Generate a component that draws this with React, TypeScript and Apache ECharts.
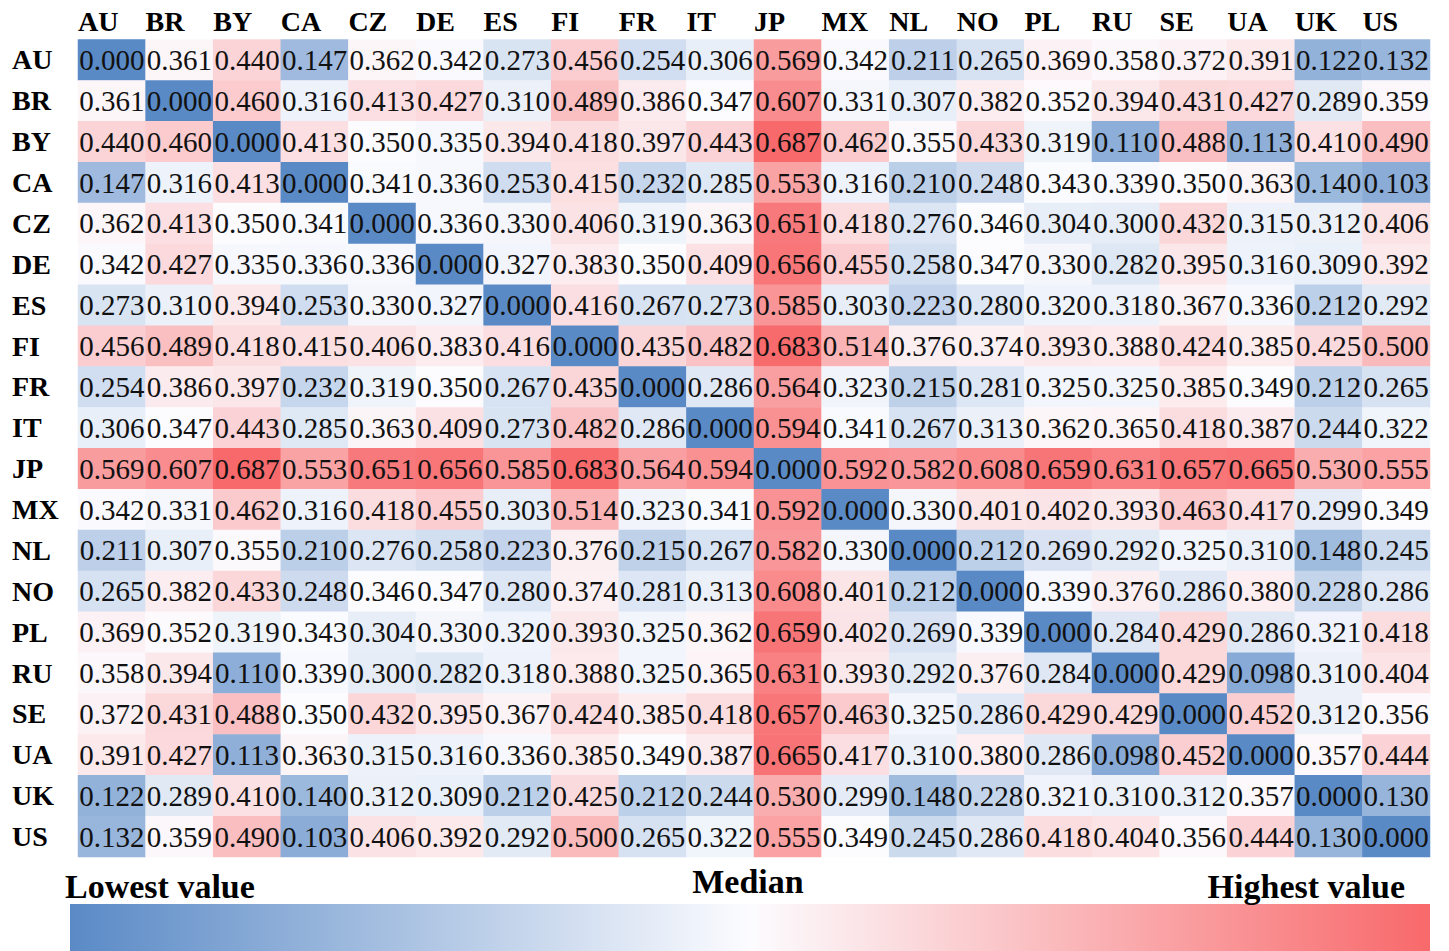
import React, { useEffect, useRef } from "react";
import * as echarts from "echarts";

const countries = ["AU", "BR", "BY", "CA", "CZ", "DE", "ES", "FI", "FR", "IT", "JP", "MX", "NL", "NO", "PL", "RU", "SE", "UA", "UK", "US"];

const rowAU = [0.000, 0.361, 0.440, 0.147, 0.362, 0.342, 0.273, 0.456, 0.254, 0.306, 0.569, 0.342, 0.211, 0.265, 0.369, 0.358, 0.372, 0.391, 0.122, 0.132];
const rowBR = [0.361, 0.000, 0.460, 0.316, 0.413, 0.427, 0.310, 0.489, 0.386, 0.347, 0.607, 0.331, 0.307, 0.382, 0.352, 0.394, 0.431, 0.427, 0.289, 0.359];
const rowBY = [0.440, 0.460, 0.000, 0.413, 0.350, 0.335, 0.394, 0.418, 0.397, 0.443, 0.687, 0.462, 0.355, 0.433, 0.319, 0.110, 0.488, 0.113, 0.410, 0.490];
const rowCA = [0.147, 0.316, 0.413, 0.000, 0.341, 0.336, 0.253, 0.415, 0.232, 0.285, 0.553, 0.316, 0.210, 0.248, 0.343, 0.339, 0.350, 0.363, 0.140, 0.103];
const rowCZ = [0.362, 0.413, 0.350, 0.341, 0.000, 0.336, 0.330, 0.406, 0.319, 0.363, 0.651, 0.418, 0.276, 0.346, 0.304, 0.300, 0.432, 0.315, 0.312, 0.406];
const rowDE = [0.342, 0.427, 0.335, 0.336, 0.336, 0.000, 0.327, 0.383, 0.350, 0.409, 0.656, 0.455, 0.258, 0.347, 0.330, 0.282, 0.395, 0.316, 0.309, 0.392];
const rowES = [0.273, 0.310, 0.394, 0.253, 0.330, 0.327, 0.000, 0.416, 0.267, 0.273, 0.585, 0.303, 0.223, 0.280, 0.320, 0.318, 0.367, 0.336, 0.212, 0.292];
const rowFI = [0.456, 0.489, 0.418, 0.415, 0.406, 0.383, 0.416, 0.000, 0.435, 0.482, 0.683, 0.514, 0.376, 0.374, 0.393, 0.388, 0.424, 0.385, 0.425, 0.500];
const rowFR = [0.254, 0.386, 0.397, 0.232, 0.319, 0.350, 0.267, 0.435, 0.000, 0.286, 0.564, 0.323, 0.215, 0.281, 0.325, 0.325, 0.385, 0.349, 0.212, 0.265];
const rowIT = [0.306, 0.347, 0.443, 0.285, 0.363, 0.409, 0.273, 0.482, 0.286, 0.000, 0.594, 0.341, 0.267, 0.313, 0.362, 0.365, 0.418, 0.387, 0.244, 0.322];
const rowJP = [0.569, 0.607, 0.687, 0.553, 0.651, 0.656, 0.585, 0.683, 0.564, 0.594, 0.000, 0.592, 0.582, 0.608, 0.659, 0.631, 0.657, 0.665, 0.530, 0.555];
const rowMX = [0.342, 0.331, 0.462, 0.316, 0.418, 0.455, 0.303, 0.514, 0.323, 0.341, 0.592, 0.000, 0.330, 0.401, 0.402, 0.393, 0.463, 0.417, 0.299, 0.349];
const rowNL = [0.211, 0.307, 0.355, 0.210, 0.276, 0.258, 0.223, 0.376, 0.215, 0.267, 0.582, 0.330, 0.000, 0.212, 0.269, 0.292, 0.325, 0.310, 0.148, 0.245];
const rowNO = [0.265, 0.382, 0.433, 0.248, 0.346, 0.347, 0.280, 0.374, 0.281, 0.313, 0.608, 0.401, 0.212, 0.000, 0.339, 0.376, 0.286, 0.380, 0.228, 0.286];
const rowPL = [0.369, 0.352, 0.319, 0.343, 0.304, 0.330, 0.320, 0.393, 0.325, 0.362, 0.659, 0.402, 0.269, 0.339, 0.000, 0.284, 0.429, 0.286, 0.321, 0.418];
const rowRU = [0.358, 0.394, 0.110, 0.339, 0.300, 0.282, 0.318, 0.388, 0.325, 0.365, 0.631, 0.393, 0.292, 0.376, 0.284, 0.000, 0.429, 0.098, 0.310, 0.404];
const rowSE = [0.372, 0.431, 0.488, 0.350, 0.432, 0.395, 0.367, 0.424, 0.385, 0.418, 0.657, 0.463, 0.325, 0.286, 0.429, 0.429, 0.000, 0.452, 0.312, 0.356];
const rowUA = [0.391, 0.427, 0.113, 0.363, 0.315, 0.316, 0.336, 0.385, 0.349, 0.387, 0.665, 0.417, 0.310, 0.380, 0.286, 0.098, 0.452, 0.000, 0.357, 0.444];
const rowUK = [0.122, 0.289, 0.410, 0.140, 0.312, 0.309, 0.212, 0.425, 0.212, 0.244, 0.530, 0.299, 0.148, 0.228, 0.321, 0.310, 0.312, 0.357, 0.000, 0.130];
const rowUS = [0.132, 0.359, 0.490, 0.103, 0.406, 0.392, 0.292, 0.500, 0.265, 0.322, 0.555, 0.349, 0.245, 0.286, 0.418, 0.404, 0.356, 0.444, 0.130, 0.000];

const matrix = [rowAU, rowBR, rowBY, rowCA, rowCZ, rowDE, rowES, rowFI, rowFR, rowIT, rowJP, rowMX, rowNL, rowNO, rowPL, rowRU, rowSE, rowUA, rowUK, rowUS];

const legendTexts = ["Lowest value", "Median", "Highest value"];

const LOW = "#5a8ac6";
const MID = "#fcfcff";
const HIGH = "#f8696b";

export default function App() {
  const ref = useRef<HTMLDivElement>(null);
  useEffect(() => {
    document.body.style.margin = "0";
    const chart = echarts.init(ref.current!, null, { renderer: "svg" });
    const all = matrix.flat().slice().sort((a, b) => a - b);
    const n = all.length;
    const median = (all[n / 2 - 1] + all[n / 2]) / 2;
    const vmin = all[0];
    const vmax = all[n - 1];
    // position on a three-colour scale where the median sits in the middle
    const scalePos = (v: number) =>
      v <= median
        ? 0.5 * (v - vmin) / (median - vmin)
        : 0.5 + 0.5 * (v - median) / (vmax - median);

    const data: any[] = [];
    matrix.forEach((row, r) => {
      row.forEach((v, c) => {
        data.push([c, r, v, scalePos(v)]);
      });
    });

    const serif = "Times New Roman, Liberation Serif, serif";

    chart.setOption({
      animation: false,
      backgroundColor: "#ffffff",
      textStyle: { fontFamily: serif },
      grid: { left: 78, right: 19, top: 39.5, bottom: 94, containLabel: false },
      visualMap: {
        show: false,
        type: "continuous",
        dimension: 3,
        min: 0,
        max: 1,
        seriesIndex: 0,
        inRange: { color: [LOW, MID, HIGH] },
      },
      xAxis: [
        {
          type: "category",
          data: countries,
          position: "top",
          axisLine: { show: false },
          axisTick: { show: false },
          axisLabel: { show: false },
          splitLine: { show: false },
        },
        {
          type: "value",
          min: 0,
          max: 20,
          interval: 1,
          position: "top",
          axisLine: { show: false },
          axisTick: { show: false },
          splitLine: { show: false },
          axisLabel: {
            show: true,
            align: "left",
            margin: 4,
            formatter: (v: number) => countries[v] ?? "",
            fontFamily: serif,
            fontWeight: "bold",
            fontSize: 28,
            color: "#000",
            showMaxLabel: false,
          },
        },
      ],
      yAxis: {
        type: "category",
        data: countries,
        inverse: true,
        axisLine: { show: false },
        axisTick: { show: false },
        splitLine: { show: false },
        axisLabel: {
          align: "left",
          margin: 66,
          fontFamily: serif,
          fontWeight: "bold",
          fontSize: 28,
          color: "#000",
        },
      },
      series: [
        {
          type: "heatmap",
          xAxisIndex: 0,
          yAxisIndex: 0,
          data,
          label: {
            show: true,
            formatter: (p: any) => p.value[2].toFixed(3),
            fontFamily: serif,
            fontWeight: "normal",
            fontSize: 29,
            color: "#111",
          },
          itemStyle: { borderWidth: 0 },
          emphasis: { disabled: true },
        },
      ],
      graphic: [
        {
          type: "rect",
          shape: { x: 70, y: 904, width: 1360, height: 47 },
          style: {
            fill: new echarts.graphic.LinearGradient(0, 0, 1, 0, [
              { offset: 0, color: LOW },
              { offset: 0.5, color: MID },
              { offset: 1, color: HIGH },
            ]),
          },
        },
        {
          type: "text",
          x: 65,
          y: 886,
          style: {
            text: legendTexts[0],
            fontFamily: serif,
            fontWeight: "bold",
            fontSize: 34,
            fill: "#000",
            textAlign: "left",
            textVerticalAlign: "middle",
          },
        },
        {
          type: "text",
          x: 748,
          y: 881,
          style: {
            text: legendTexts[1],
            fontFamily: serif,
            fontWeight: "bold",
            fontSize: 34,
            fill: "#000",
            textAlign: "center",
            textVerticalAlign: "middle",
          },
        },
        {
          type: "text",
          x: 1405,
          y: 886,
          style: {
            text: legendTexts[2],
            fontFamily: serif,
            fontWeight: "bold",
            fontSize: 34,
            fill: "#000",
            textAlign: "right",
            textVerticalAlign: "middle",
          },
        },
      ],
    });
    return () => chart.dispose();
  }, []);
  return <div ref={ref} style={{ width: 1449, height: 951 }} />;
}
